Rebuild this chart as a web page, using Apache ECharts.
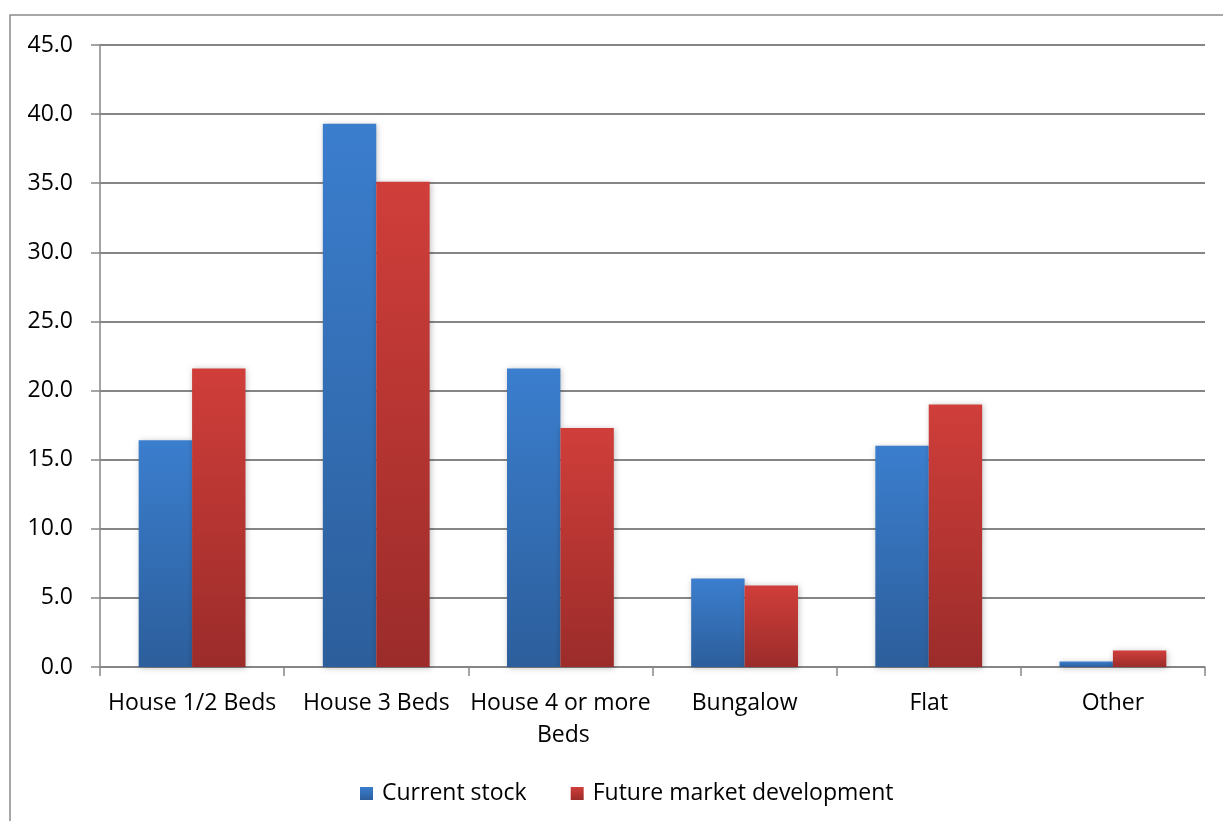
<!DOCTYPE html>
<html>
<head>
<meta charset="utf-8">
<script src="https://cdn.jsdelivr.net/npm/echarts@6/dist/echarts.min.js"></script>
<style>
  html, body { margin: 0; padding: 0; background: #fff; }
  #chart { width: 1223px; height: 821px; }
</style>
</head>
<body>
<div id="chart"></div>
<script>
// Dwelling types and shares (%) for each series
const categories = ['House 1/2 Beds', 'House 3 Beds', 'House 4 or more Beds', 'Bungalow', 'Flat', 'Other'];
const currentStock = [16.4, 39.3, 21.6, 6.4, 16.0, 0.4];
const futureMarket = [21.6, 35.1, 17.3, 5.9, 19.0, 1.2];
const seriesNames = ['Current stock', 'Future market development'];

const FONT = '"Open Sans", sans-serif';

function vgrad(top, bottom) {
  return new echarts.graphic.LinearGradient(0, 0, 0, 1, [
    { offset: 0, color: top },
    { offset: 1, color: bottom }
  ]);
}

const blue = vgrad('#3b7ece', '#2c5e9b');
const red = vgrad('#d03e3a', '#9b2c2a');

const chart = echarts.init(document.getElementById('chart'), null, { renderer: 'canvas' });

const barStyle = (color) => ({
  color: color,
  shadowColor: 'rgba(0,0,0,0.25)',
  shadowBlur: 6,
  shadowOffsetX: 1,
  shadowOffsetY: 1
});

chart.setOption({
  backgroundColor: '#ffffff',
  animation: false,
  graphic: [{
    type: 'rect',
    shape: { x: 10, y: 15, width: 1240, height: 840 },
    style: { fill: 'none', stroke: '#8a8a8a', lineWidth: 1.5 },
    silent: true,
    z: -1
  }],
  grid: { left: 100, right: 18, top: 45, bottom: 154, containLabel: false },
  legend: {
    data: [
      { name: seriesNames[0], itemStyle: { color: blue } },
      { name: seriesNames[1], itemStyle: { color: red } }
    ],
    top: 777,
    left: 355,
    icon: 'rect',
    itemWidth: 13,
    itemHeight: 13,
    itemGap: 44,
    textStyle: { fontFamily: FONT, fontSize: 23, color: '#000', padding: [0, 0, 0, 4] }
  },
  xAxis: {
    type: 'category',
    data: categories,
    axisLine: { lineStyle: { color: '#868686', width: 1.5 } },
    axisTick: { show: true, length: 9, lineStyle: { color: '#868686', width: 1.5 } },
    axisLabel: {
      fontFamily: FONT, fontSize: 23, color: '#000',
      margin: 20, lineHeight: 32,
      width: 184, overflow: 'break', interval: 0
    }
  },
  yAxis: {
    type: 'value',
    min: 0, max: 45, interval: 5,
    axisLine: { show: true, lineStyle: { color: '#868686', width: 1.5 } },
    axisTick: { show: true, length: 9, lineStyle: { color: '#868686', width: 1.5 } },
    splitLine: { lineStyle: { color: '#858585', width: 1.8 } },
    axisLabel: {
      fontFamily: FONT, fontSize: 23, color: '#000', margin: 27,
      formatter: (v) => v.toFixed(1)
    }
  },
  series: [
    {
      name: seriesNames[0], type: 'bar', data: currentStock,
      barGap: '0%', barCategoryGap: '42%',
      itemStyle: barStyle(blue)
    },
    {
      name: seriesNames[1], type: 'bar', data: futureMarket,
      barGap: '0%', barCategoryGap: '42%',
      itemStyle: barStyle(red)
    }
  ]
});
</script>
</body>
</html>
